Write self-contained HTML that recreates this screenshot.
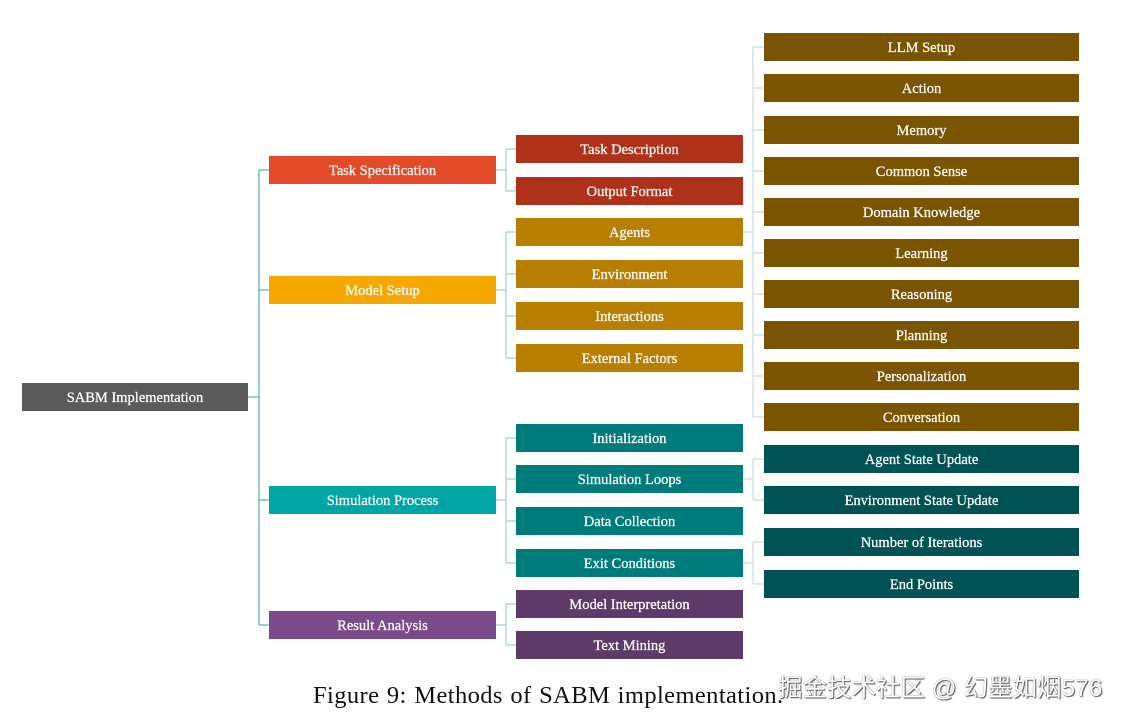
<!DOCTYPE html>
<html><head><meta charset="utf-8"><style>
body{margin:0;width:1125px;height:720px;background:#fff;position:relative;overflow:hidden;font-family:"Liberation Serif",serif}
.b{position:absolute;height:28px;line-height:31px;text-align:center;color:#fff;font-size:14.5px;-webkit-text-stroke:0.25px #fff}
.c1{left:22px;width:226px}.c2{left:269px;width:227px}.c3{left:516px;width:227px}.c4{left:764px;width:315px}
.cap{position:absolute;left:313px;top:682px;font-size:24.5px;letter-spacing:0.4px;word-spacing:1px;color:#111}
.wm{position:absolute;left:778px;top:669px;font-size:24.5px;color:#fff;font-family:"Liberation Sans","Noto Sans CJK SC",sans-serif;text-shadow:0 0 1px #444,1px 1px 1px #555}
</style></head><body>
<svg width="1125" height="720" style="position:absolute;left:0;top:0" fill="none">
<g stroke="#5fb3b3" stroke-width="1.3">
<path d="M248 397H259M259 170V625M259 170H269M259 290H269M259 500H269M259 625H269"/>
</g>
<g stroke="#9fcfcf" stroke-width="1.2">
<path d="M496 170H506M506 149V191M506 149H516M506 191H516"/>
<path d="M496 290H506M506 232V358M506 232H516M506 274H516M506 316H516M506 358H516"/>
<path d="M496 500H506M506 438V563M506 438H516M506 479H516M506 521H516M506 563H516"/>
<path d="M496 625H506M506 604V645M506 604H516M506 645H516"/>
</g>
<g stroke="#cadbdf" stroke-width="1.2">
<path d="M743 232H753M753 47V417M753 47H764M753 88H764M753 130H764M753 171H764M753 212H764M753 253H764M753 294H764M753 335H764M753 376H764M753 417H764"/>
<path d="M743 479H753M753 459V500M753 459H764M753 500H764"/>
<path d="M743 563H753M753 542V584M753 542H764M753 584H764"/>
</g>
</svg>
<div class="b c1" style="top:383px;background:#5a5a5a">SABM Implementation</div>
<div class="b c2" style="top:156px;background:#e34a27">Task Specification</div>
<div class="b c2" style="top:276px;background:#f4a800">Model Setup</div>
<div class="b c2" style="top:486px;background:#00a5a5">Simulation Process</div>
<div class="b c2" style="top:611px;background:#7a4a8a">Result Analysis</div>
<div class="b c3" style="top:135px;background:#b03119">Task Description</div>
<div class="b c3" style="top:177px;background:#b03119">Output Format</div>
<div class="b c3" style="top:218px;background:#b77e00">Agents</div>
<div class="b c3" style="top:260px;background:#b77e00">Environment</div>
<div class="b c3" style="top:302px;background:#b77e00">Interactions</div>
<div class="b c3" style="top:344px;background:#b77e00">External Factors</div>
<div class="b c3" style="top:424px;background:#007b7b">Initialization</div>
<div class="b c3" style="top:465px;background:#007b7b">Simulation Loops</div>
<div class="b c3" style="top:507px;background:#007b7b">Data Collection</div>
<div class="b c3" style="top:549px;background:#007b7b">Exit Conditions</div>
<div class="b c3" style="top:590px;background:#5e3a68">Model Interpretation</div>
<div class="b c3" style="top:631px;background:#5e3a68">Text Mining</div>
<div class="b c4" style="top:33px;background:#7a5400">LLM Setup</div>
<div class="b c4" style="top:74px;background:#7a5400">Action</div>
<div class="b c4" style="top:116px;background:#7a5400">Memory</div>
<div class="b c4" style="top:157px;background:#7a5400">Common Sense</div>
<div class="b c4" style="top:198px;background:#7a5400">Domain Knowledge</div>
<div class="b c4" style="top:239px;background:#7a5400">Learning</div>
<div class="b c4" style="top:280px;background:#7a5400">Reasoning</div>
<div class="b c4" style="top:321px;background:#7a5400">Planning</div>
<div class="b c4" style="top:362px;background:#7a5400">Personalization</div>
<div class="b c4" style="top:403px;background:#7a5400">Conversation</div>
<div class="b c4" style="top:445px;background:#005254">Agent State Update</div>
<div class="b c4" style="top:486px;background:#005254">Environment State Update</div>
<div class="b c4" style="top:528px;background:#005254">Number of Iterations</div>
<div class="b c4" style="top:570px;background:#005254">End Points</div>
<div class="cap">Figure 9: Methods of SABM implementation.</div>
<div class="wm">掘金技术社区 @ 幻墨如烟576</div>
</body></html>
